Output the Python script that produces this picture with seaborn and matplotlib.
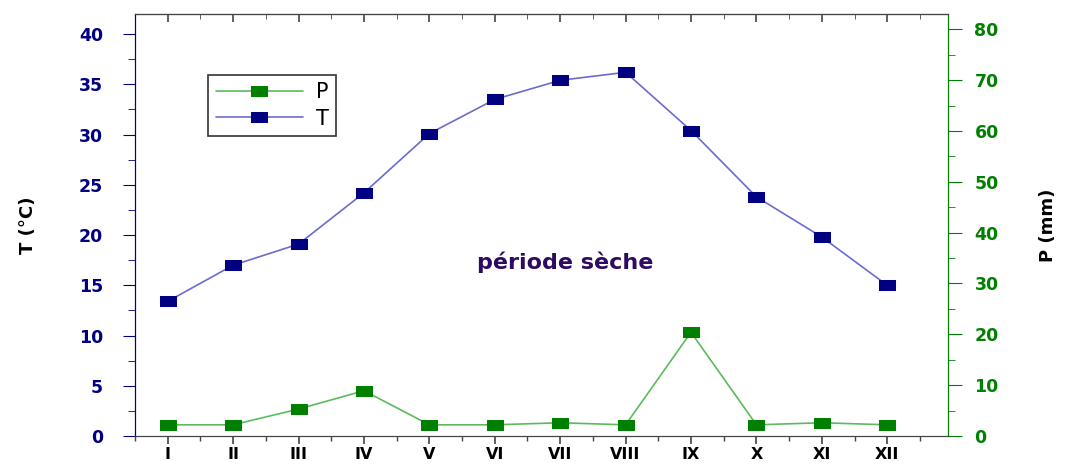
import numpy as np
import pandas as pd
import matplotlib.pyplot as plt
import seaborn as sns
from matplotlib.ticker import MultipleLocator

# -------------------------------------------------------
# Data
# -------------------------------------------------------
months = ['I', 'II', 'III', 'IV', 'V', 'VI', 'VII', 'VIII', 'IX', 'X', 'XI', 'XII']
temp_c = [13.4, 17.0, 19.1, 24.2, 30.1, 33.5, 35.4, 36.2, 30.4, 23.8, 19.8, 15.0]
precip_mm = [2.2, 2.2, 5.3, 8.9, 2.2, 2.2, 2.6, 2.2, 20.4, 2.2, 2.6, 2.2]

df = pd.DataFrame({'month': np.arange(1, 13), 'T': temp_c, 'P': precip_mm})

sns.set_style("ticks")
plt.rcParams['font.family'] = ['DejaVu Sans']
plt.rcParams['text.color'] = 'black'
plt.rcParams['axes.labelcolor'] = 'black'
plt.rcParams['xtick.color'] = 'black'

navy = '#000080'
green = '#008000'
# wide rectangle marker, like the stretched squares of the original
rect = [(-1.6, -1), (1.6, -1), (1.6, 1), (-1.6, 1), (-1.6, -1)]

fig = plt.figure(figsize=(10.65, 4.67), dpi=100)
ax = fig.add_axes([0.1268, 0.0664, 0.7634, 0.9036])
ax2 = ax.twinx()

sns.lineplot(x='month', y='T', data=df, ax=ax, color='#6b6bd0', lw=1.2,
             marker=rect, markersize=11, markerfacecolor=navy, markeredgecolor=navy, label='T')
sns.lineplot(x='month', y='P', data=df, ax=ax2, color='#5cba5c', lw=1.2,
             marker=rect, markersize=11, markerfacecolor=green, markeredgecolor=green, label='P')

ax.set_xlim(0.5, 12.93)
ax.set_ylim(0, 42)
ax2.set_ylim(0, 83)

ax.set_xticks(df['month'])
ax.set_xticklabels(months, fontsize=11.5, fontweight='bold', color='black')
ax.xaxis.set_minor_locator(MultipleLocator(0.5))
ax.yaxis.set_major_locator(MultipleLocator(5))
ax.yaxis.set_minor_locator(MultipleLocator(2.5))
ax2.yaxis.set_major_locator(MultipleLocator(10))
ax2.yaxis.set_minor_locator(MultipleLocator(5))

for lab in ax.get_yticklabels():
    lab.set_fontweight('bold')
    lab.set_fontsize(12.5)
    lab.set_color(navy)
for lab in ax2.get_yticklabels():
    lab.set_fontweight('bold')
    lab.set_fontsize(12.5)
    lab.set_color(green)

ax.tick_params(axis='x', which='major', length=6, width=1.2, direction='out', pad=2,
               color='#444444')
ax.tick_params(axis='x', which='minor', length=3.5, width=1, direction='out', color='#444444')
ax.tick_params(axis='y', which='major', length=9, colors=navy, labelcolor=navy, pad=14)
ax.tick_params(axis='y', which='minor', length=5, colors=navy)
ax2.tick_params(axis='y', which='major', length=10, colors=green, labelcolor=green, pad=9)
ax2.tick_params(axis='y', which='minor', length=5, colors=green)

# inward ticks on the top frame
top = ax.secondary_xaxis('top')
top.set_xticks(df['month'])
top.set_xticklabels([''] * len(months))
top.xaxis.set_minor_locator(MultipleLocator(0.5))
top.tick_params(which='major', direction='in', length=6, width=1.2, colors='#444444')
top.tick_params(which='minor', direction='in', length=3.5, colors='#444444')
top.spines['top'].set_color('#444444')

ax.spines['left'].set_color(navy)
ax2.spines['left'].set_color(navy)
ax2.spines['right'].set_color(green)
ax.spines['right'].set_color(green)
for sp in ['top', 'bottom']:
    ax.spines[sp].set_color('#444444')
    ax2.spines[sp].set_color('#444444')

ax.set_xlabel('')
ax.set_ylabel('T (°C)', fontsize=13, fontweight='bold', color='black')
ax.yaxis.set_label_coords(-0.12, 0.5)
ax2.set_ylabel('P (mm)', fontsize=13, fontweight='bold', color='black')
ax2.yaxis.set_label_coords(1.112, 0.5)

ax.text(0.529, 0.412, 'période sèche', transform=ax.transAxes, ha='center', va='center',
        fontsize=16, fontweight='bold', color='#2e0a60')

# combined legend: P first, then T
h1, l1 = ax.get_legend_handles_labels()
h2, l2 = ax2.get_legend_handles_labels()
ax.get_legend().remove()
ax2.get_legend().remove()
leg = ax.legend(h2 + h1, l2 + l1, loc='upper left', bbox_to_anchor=(0.09, 0.855),
                borderaxespad=0, fontsize=15, frameon=True, fancybox=False, edgecolor='black',
                handlelength=4.2, handletextpad=0.6, borderpad=0.35, labelspacing=0.3,
                labelcolor='black')
leg.get_frame().set_linewidth(1.2)

fig.savefig('out.png', dpi=100)
